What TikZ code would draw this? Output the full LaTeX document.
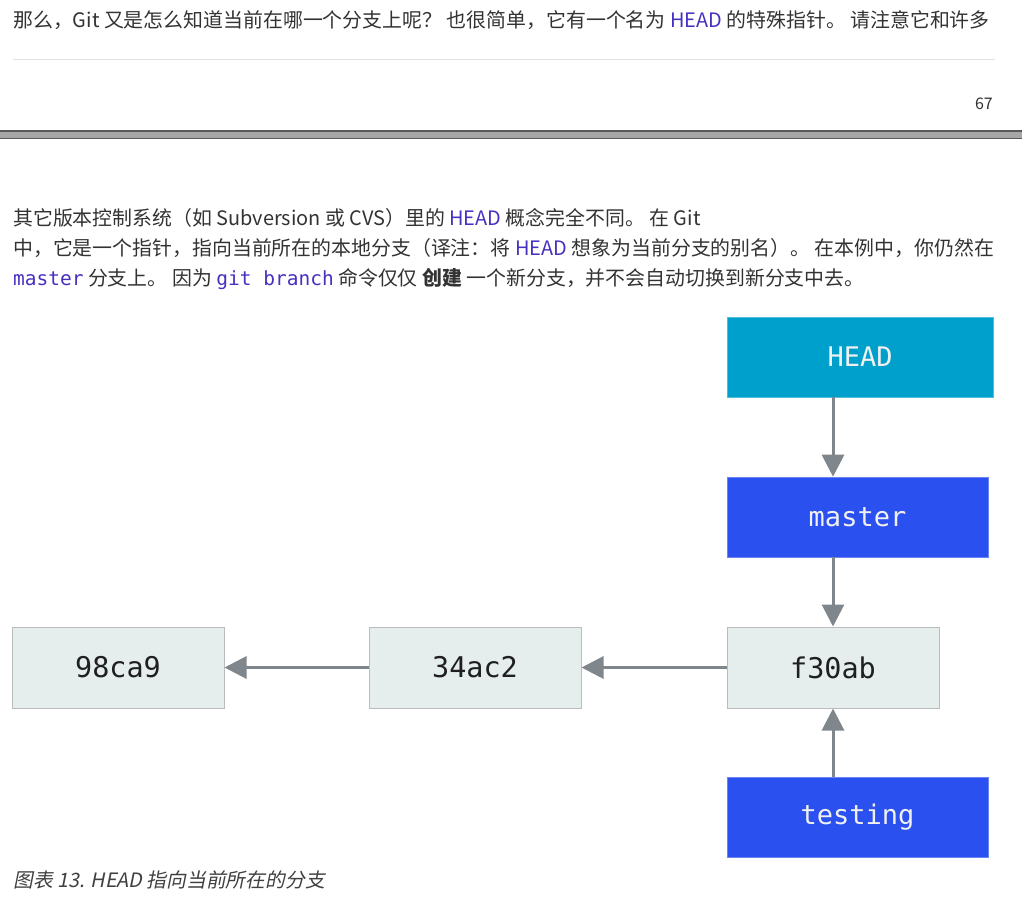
\documentclass[tikz,border=0pt]{standalone}
\usepackage{fontspec}
\setmainfont{Noto Sans CJK SC}
\newfontfamily\monofont{DejaVu Sans Mono}
\newfontfamily\capfont{Noto Sans CJK SC}[FakeSlant=0.2]
\usetikzlibrary{arrows.meta}
\definecolor{txt}{HTML}{333333}
\definecolor{kw}{HTML}{4632C0}
\definecolor{headc}{HTML}{00A0CC}
\definecolor{branchc}{HTML}{2A50F0}
\definecolor{commitc}{HTML}{E5EEED}
\definecolor{commitb}{HTML}{B9BDBD}
\definecolor{arrc}{HTML}{80878C}
\newcommand{\kwd}[1]{\textcolor{kw}{#1}}
\newcommand{\kcode}[1]{\textcolor{kw}{\monofont\fontsize{19.5}{22}\selectfont #1}}
\tikzset{
  para/.style={anchor=base west, inner sep=0pt, text=txt, font=\fontsize{19.9}{22}\selectfont},
  branchbox/.style={rectangle, inner sep=0pt, minimum width=261pt, minimum height=80pt, fill=branchc, draw=branchc!70!white, line width=0.6pt, text=white!94!black, font=\monofont\fontsize{27}{30}\selectfont},
  commitbox/.style={rectangle, inner sep=0pt, minimum width=212pt, minimum height=81pt, fill=commitc, draw=commitb, line width=1pt, text=black!88, font=\monofont\fontsize{28.5}{30}\selectfont},
  arr/.style={draw=arrc, line width=3pt, -{Triangle[width=22pt,length=22pt]}, arrc}
}
\begin{document}
\begin{tikzpicture}[x=1pt,y=-1pt]
\useasboundingbox (0,0) rectangle (1022,897);
\fill[white] (0,0) rectangle (1022,897);
% top text
\node[para] (l1) at (13,27) {那么，Git 又是怎么知道当前在哪一个分支上呢？ 也很简单，它有一个名为 \kwd{HEAD} 的特殊指针。 请注意它和许多};
\draw[draw=black!12, line width=1pt] (13,59) -- (995,59);
\node[anchor=base east, inner sep=0pt, text=txt, font=\fontsize{16}{18}\selectfont] (pg) at (993,109) {67};
% page separator bar
\fill[black!35] (0,131) rectangle (1022,139);
\draw[black!65, line width=1.2pt] (0,131) -- (1022,131);
\draw[black!65, line width=1.2pt] (0,138.5) -- (1022,138.5);
% paragraph
\node[para] (l2) at (13,225) {其它版本控制系统（如 Subversion 或 CVS）里的 \kwd{HEAD} 概念完全不同。 在 Git};
\node[para] (l3) at (13,255) {中，它是一个指针，指向当前所在的本地分支（译注：将 \kwd{HEAD} 想象为当前分支的别名）。 在本例中，你仍然在};
\node[para] (l4) at (13,285) {\kcode{master} 分支上。 因为 \kcode{git branch} 命令仅仅 \textbf{创建} 一个新分支，并不会自动切换到新分支中去。};
% diagram
\node[branchbox, fill=headc, draw=headc!70!white, minimum width=266pt] (head) at (860,357) {HEAD};
\node[branchbox] (master) at (857.5,517) {master};
\node[commitbox] (c3) at (833,667.5) {f30ab};
\node[commitbox] (c2) at (475,667.5) {34ac2};
\node[commitbox] (c1) at (118,667.5) {98ca9};
\node[branchbox] (testing) at (857.5,817) {testing};
\draw[arr] (head.south -| c3.center) -- (master.north -| c3.center);
\draw[arr] (master.south -| c3.center) -- (c3.north);
\draw[arr] (testing.north -| c3.center) -- (c3.south);
\draw[arr] (c3.west) -- (c2.east);
\draw[arr] (c2.west) -- (c1.east);
% caption
\node[anchor=base west, inner sep=0pt, text=black!75, font=\capfont\fontsize{19.8}{22}\selectfont] (cap) at (13,887) {图表 13. HEAD 指向当前所在的分支};
\end{tikzpicture}
\end{document}
